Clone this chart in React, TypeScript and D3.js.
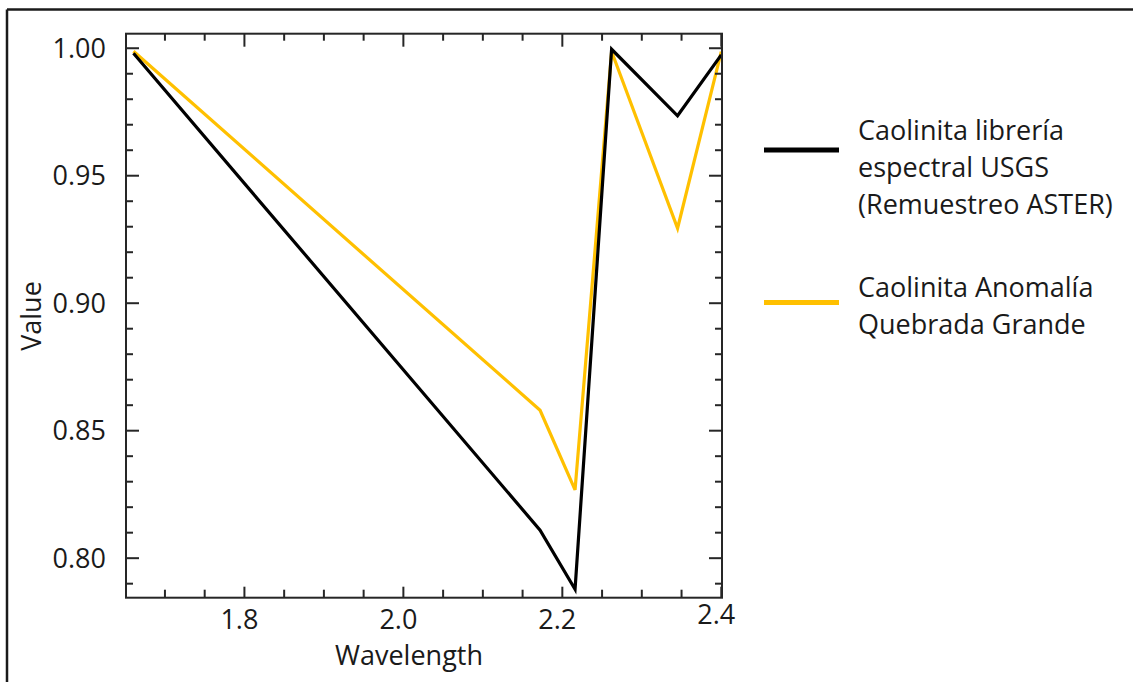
import React from "react";
import * as d3 from "d3";

const wavelengths = [1.6604, 2.172, 2.216, 2.262, 2.345, 2.4];
const usgsValues = [0.998, 0.811, 0.7878, 0.9996, 0.9735, 0.9974];
const anomalyValues = [0.9988, 0.858, 0.8268, 0.9987, 0.9294, 0.9987];
const xMajorTicks = [1.8, 2.0, 2.2, 2.4];
const xMinorTicks = [1.7, 1.75, 1.85, 1.9, 1.95, 2.05, 2.1, 2.15, 2.25, 2.3, 2.35];
const yMajorTicks = [0.8, 0.85, 0.9, 0.95, 1.0];
const yMinorTicks = [0.79, 0.81, 0.82, 0.83, 0.84, 0.86, 0.87, 0.88, 0.89, 0.91, 0.92, 0.93, 0.94, 0.96, 0.97, 0.98, 0.99];
const seriesNames = [
  ["Caolinita librería", "espectral USGS", "(Remuestreo ASTER)"],
  ["Caolinita Anomalía", "Quebrada Grande"],
];
const seriesColors = ["#000000", "#FFC000"];

const W = 1133;
const H = 682;
const L = 126, R = 722, T = 33.7, B = 597.7;
const FONT = "'Open Sans', 'Noto Sans', sans-serif";
const FS = 27;

export default function App() {
  const x = d3.scaleLinear().domain([1.651, 2.4009]).range([L, R]);
  const y = d3.scaleLinear().domain([0.7845, 1.0057]).range([B, T]);
  const line = d3
    .line<[number, number]>()
    .x((d) => x(d[0]))
    .y((d) => y(d[1]));
  const series = [usgsValues, anomalyValues];
  const axisColor = "#262626";
  const major = 13;
  const minor = 7;

  return (
    <svg
      width={W}
      height={H}
      style={{ position: "absolute", left: 0, top: 0, background: "#fff" }}
    >
      <rect x={0} y={0} width={W} height={H} fill="#fff" />
      {/* outer frame (left and top) */}
      <line x1={7} y1={9.5} x2={W} y2={9.5} stroke="#1a1a1a" strokeWidth={2.5} />
      <line x1={7} y1={9.5} x2={7} y2={H} stroke="#1a1a1a" strokeWidth={2.5} />

      {/* series lines */}
      {series.map((vals, i) => (
        <path
          key={i}
          d={line(wavelengths.map((w, j) => [w, vals[j]]) as [number, number][]) || ""}
          fill="none"
          stroke={seriesColors[i]}
          strokeWidth={3.2}
          strokeLinejoin="miter"
        />
      )).reverse()}

      {/* ticks */}
      <g stroke={axisColor} strokeWidth={2}>
        {yMajorTicks.map((v) => (
          <g key={"ym" + v}>
            <line x1={L} x2={L + major} y1={y(v)} y2={y(v)} />
            <line x1={R} x2={R - major} y1={y(v)} y2={y(v)} />
          </g>
        ))}
        {yMinorTicks.map((v) => (
          <g key={"yn" + v}>
            <line x1={L} x2={L + minor} y1={y(v)} y2={y(v)} />
            <line x1={R} x2={R - minor} y1={y(v)} y2={y(v)} />
          </g>
        ))}
        {xMajorTicks.map((v) => (
          <g key={"xm" + v}>
            <line x1={x(v)} x2={x(v)} y1={B} y2={B - major + 2} />
            <line x1={x(v)} x2={x(v)} y1={T} y2={T + major} />
          </g>
        ))}
        {xMinorTicks.map((v) => (
          <g key={"xn" + v}>
            <line x1={x(v)} x2={x(v)} y1={B} y2={B - minor - 1} />
            <line x1={x(v)} x2={x(v)} y1={T} y2={T + minor} />
          </g>
        ))}
      </g>

      {/* plot frame */}
      <rect
        x={L}
        y={T}
        width={R - L}
        height={B - T}
        fill="none"
        stroke={axisColor}
        strokeWidth={2}
      />

      {/* y tick labels */}
      {yMajorTicks.map((v) => (
        <text
          key={"yl" + v}
          x={L - 20}
          y={y(v)}
          dy="0.36em"
          textAnchor="end"
          fontFamily={FONT}
          fontSize={FS}
          fill="#1a1a1a"
        >
          {d3.format(".2f")(v)}
        </text>
      ))}
      {/* x tick labels */}
      {xMajorTicks.map((v) => (
        <text
          key={"xl" + v}
          x={x(v) - 5}
          y={v === 2.4 ? 624 : 629}
          textAnchor="middle"
          fontFamily={FONT}
          fontSize={FS}
          fill="#1a1a1a"
        >
          {d3.format(".1f")(v)}
        </text>
      ))}

      {/* axis titles */}
      <text
        x={409}
        y={665}
        textAnchor="middle"
        fontFamily={FONT}
        fontSize={FS}
        fill="#1a1a1a"
      >
        Wavelength
      </text>
      <text
        transform={`translate(41,316) rotate(-90)`}
        textAnchor="middle"
        fontFamily={FONT}
        fontSize={FS}
        fill="#1a1a1a"
      >
        Value
      </text>

      {/* legend */}
      <line x1={764} x2={839} y1={150} y2={150} stroke={seriesColors[0]} strokeWidth={5} />
      <line x1={764} x2={839} y1={302.5} y2={302.5} stroke={seriesColors[1]} strokeWidth={5} />
      {seriesNames[0].map((t, i) => (
        <text
          key={"l0" + i}
          x={858}
          y={140 + i * 37}
          fontFamily={FONT}
          fontSize={FS}
          fill="#1a1a1a"
        >
          {t}
        </text>
      ))}
      {seriesNames[1].map((t, i) => (
        <text
          key={"l1" + i}
          x={858}
          y={297 + i * 37}
          fontFamily={FONT}
          fontSize={FS}
          fill="#1a1a1a"
        >
          {t}
        </text>
      ))}
    </svg>
  );
}
